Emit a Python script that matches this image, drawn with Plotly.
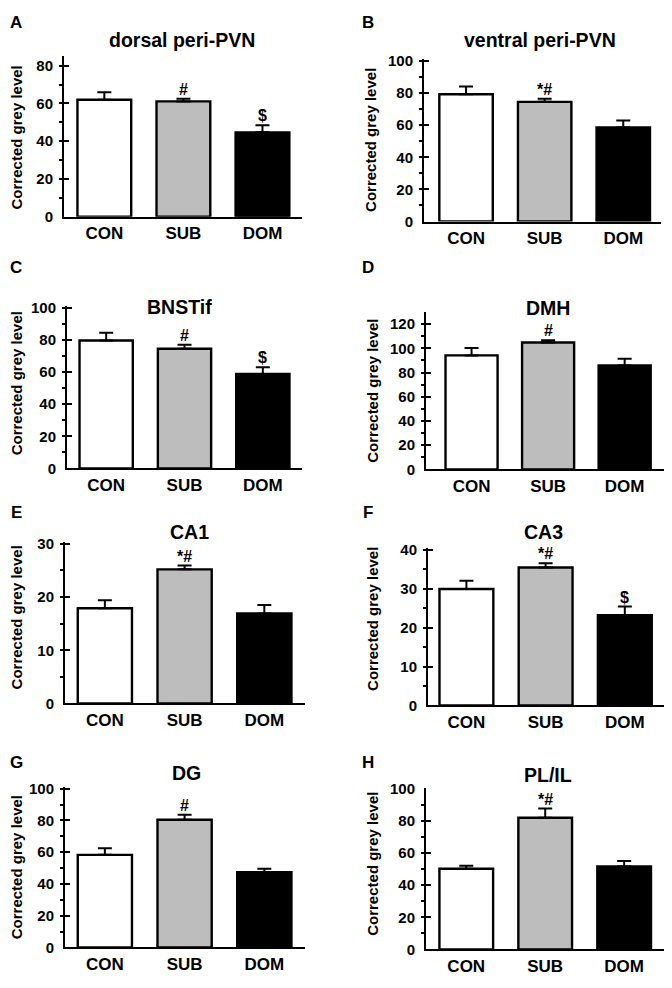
import plotly.graph_objects as go

# ---------------- data ----------------
categories = ["CON", "SUB", "DOM"]
regions = ["dorsal peri-PVN", "ventral peri-PVN", "BNSTif", "DMH", "CA1", "CA3", "DG", "PL/IL"]
panel_letters = ["A", "B", "C", "D", "E", "F", "G", "H"]

mean_dorsal_pvn = [62.0, 61.1, 44.7]
sem_dorsal_pvn = [4.0, 1.4, 3.8]
mean_ventral_pvn = [79.2, 74.5, 58.6]
sem_ventral_pvn = [4.9, 2.0, 4.3]
mean_bnstif = [79.6, 74.5, 58.8]
sem_bnstif = [4.9, 2.4, 4.2]
mean_dmh = [94.2, 104.8, 85.8]
sem_dmh = [6.2, 1.9, 5.7]
mean_ca1 = [17.9, 25.2, 16.9]
sem_ca1 = [1.5, 0.7, 1.6]
mean_ca3 = [29.9, 35.4, 23.2]
sem_ca3 = [2.1, 1.1, 2.2]
mean_dg = [58.3, 80.4, 47.4]
sem_dg = [4.2, 3.1, 2.1]
mean_plil = [50.2, 82.0, 51.6]
sem_plil = [1.9, 5.7, 3.5]

sig_dorsal_pvn = ["", "#", "$"]
sig_ventral_pvn = ["", "*#", ""]
sig_bnstif = ["", "#", "$"]
sig_dmh = ["", "#", ""]
sig_ca1 = ["", "*#", ""]
sig_ca3 = ["", "*#", "$"]
sig_dg = ["", "#", ""]
sig_plil = ["", "*#", ""]

means = [mean_dorsal_pvn, mean_ventral_pvn, mean_bnstif, mean_dmh, mean_ca1, mean_ca3, mean_dg, mean_plil]
sems = [sem_dorsal_pvn, sem_ventral_pvn, sem_bnstif, sem_dmh, sem_ca1, sem_ca3, sem_dg, sem_plil]
sigs = [sig_dorsal_pvn, sig_ventral_pvn, sig_bnstif, sig_dmh, sig_ca1, sig_ca3, sig_dg, sig_plil]

y_max = [85, 101, 101, 130, 30.3, 40.4, 101, 100.5]
y_dtick = [20, 20, 20, 20, 10, 10, 20, 20]
y_label = "Corrected grey level"

# ---------------- layout (page pixels) ----------------
PAGE_W, PAGE_H = 672, 988
OFF = 8                      # default body margin of the html page
W, H = PAGE_W - 2 * OFF, PAGE_H - 2 * OFF
X_LIMIT = OFF + W            # rightmost page pixel the figure can reach


def px(x):
    return min(1.0, max(0.0, (x - OFF) / W))


def py(y):
    return min(1.0, max(0.0, 1 - (y - OFF) / H))


# x0, x1, y_top, y_bottom of each plot area (page pixels)
boxes = [
    (64, 302, 49, 212),
    (424, 661, 52, 217),
    (67, 302, 303, 468),
    (426, 666, 309, 469),
    (65, 305, 543, 707),
    (428, 666, 549, 709),
    (65, 305, 792, 955),
    (426, 666, 793, 957),
]
x_ranges = [
    (-0.51, 2.5), (-0.535, 2.48), (-0.5, 2.5), (-0.595, 2.54),
    (-0.5, 2.51), (-0.485, 2.52), (-0.5, 2.51), (-0.51, 2.53),
]
title_pos = [(182, 32), (540, 32), (179, 304), (548, 305), (189, 533), (543, 533), (186, 778), (548, 780)]
letter_pos = [(16, 15), (368, 15), (16, 264), (368, 264), (16, 513), (368, 513), (16, 767), (368, 767)]
ylabel_pos = [(16.5, 132), (371, 134), (16.5, 382), (373, 389), (16.5, 620), (373, 621), (16.5, 874), (373, 870)]

FONT = "Liberation Sans"
bar_colors = ["#ffffff", "#bdbdbd", "#000000"]

fig = go.Figure()
annotations = []
for i in range(8):
    n = "" if i == 0 else str(i + 1)
    xa, ya = "x" + n, "y" + n
    x0, x1, yt, yb = boxes[i]
    r0, r1 = x_ranges[i]
    if x1 > X_LIMIT:  # keep the scale, trim the axis end that falls outside the page
        ppu = (x1 - x0) / (r1 - r0)
        r1 -= (x1 - X_LIMIT) / ppu
        x1 = X_LIMIT
    fig.add_trace(go.Bar(
        x=categories, y=means[i],
        marker=dict(color=bar_colors, line=dict(color="black", width=2.4)),
        width=0.68,
        error_y=dict(type="data", array=sems[i], arrayminus=[0, 0, 0], symmetric=False,
                     color="black", thickness=2, width=7),
        xaxis=xa, yaxis=ya, showlegend=False,
    ))
    fig.update_layout(**{
        ("xaxis" + n): dict(
            domain=[px(x0), px(x1)], anchor=ya, range=[r0, r1],
            showline=True, linecolor="black", linewidth=2, ticks="",
            showgrid=False, zeroline=False, fixedrange=True,
            tickfont=dict(family=FONT, size=17, color="black", weight="bold"),
            ticklabelstandoff=0,
        ),
        ("yaxis" + n): dict(
            domain=[py(yb), py(yt)], anchor=xa, range=[0, y_max[i]],
            showline=True, linecolor="black", linewidth=2,
            ticks="inside", ticklen=5, tickwidth=2, tickcolor="black",
            dtick=y_dtick[i], tick0=0,
            minor=dict(ticks="outside", ticklen=3, tickwidth=2, tickcolor="black", dtick=y_dtick[i] / 2),
            showgrid=False, zeroline=False,
            tickfont=dict(family=FONT, size=15, color="black", weight="bold"),
            ticklabelstandoff=6,
        ),
    })
    # significance marks
    for j, s in enumerate(sigs[i]):
        if s:
            annotations.append(dict(
                x=categories[j], y=means[i][j] + sems[i][j], xref=xa, yref=ya,
                text=s, showarrow=False, yanchor="bottom", yshift=-1,
                font=dict(family=FONT, size=16, color="black", weight="bold"),
            ))
    tx, ty = title_pos[i]
    annotations.append(dict(x=px(tx), y=py(ty), xref="paper", yref="paper", text=regions[i],
                            showarrow=False, xanchor="center", yanchor="middle",
                            font=dict(family=FONT, size=19.5, color="black", weight="bold")))
    lx, ly = letter_pos[i]
    annotations.append(dict(x=px(lx), y=py(ly), xref="paper", yref="paper", text=panel_letters[i],
                            showarrow=False, xanchor="center", yanchor="middle",
                            font=dict(family=FONT, size=17, color="black", weight="bold")))
    gx, gy = ylabel_pos[i]
    annotations.append(dict(x=px(gx), y=py(gy), xref="paper", yref="paper", text=y_label,
                            showarrow=False, xanchor="center", yanchor="middle", textangle=-90,
                            font=dict(family=FONT, size=15, color="black", weight="bold")))

fig.update_layout(
    width=W, height=H, margin=dict(l=0, r=0, t=0, b=0),
    paper_bgcolor="white", plot_bgcolor="white",
    annotations=annotations, bargap=0.3,
)
fig.write_html("out.html")
